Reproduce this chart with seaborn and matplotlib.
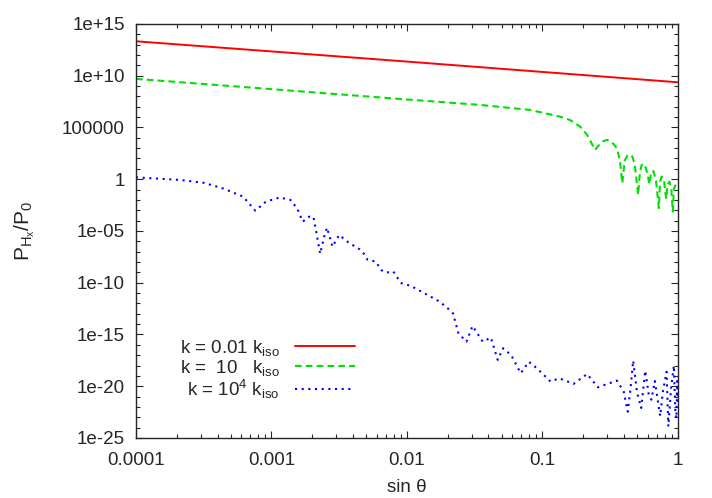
import numpy as np
import pandas as pd
import matplotlib
matplotlib.use("Agg")
import matplotlib.pyplot as plt
from matplotlib.ticker import FixedLocator, FixedFormatter, LogLocator, NullFormatter
import seaborn as sns

# values (log-log plot)
red_x = [1e-4, 1e-3, 1e-2, 1e-1, 1.0]
red_y = [2.1e13, 2.2e12, 2.3e11, 2.3e10, 2.3e9]

green_x = [1e-4, 1e-3, 8.9e-3, 0.0347, 0.0813, 0.135, 0.16, 0.19, 0.214, 0.245,
           0.262, 0.28, 0.298, 0.315, 0.335, 0.355, 0.374, 0.389, 0.405, 0.422,
           0.443, 0.462, 0.48, 0.497, 0.509, 0.525, 0.54, 0.555, 0.575, 0.598,
           0.617, 0.632, 0.647, 0.66, 0.69, 0.724, 0.74, 0.759, 0.79, 0.82,
           0.84, 0.867, 0.895, 0.918, 0.935, 0.957, 0.98, 1.0]
green_y = [4.9e9, 5.0e8, 5.6e7, 1.5e7, 4.9e6, 1.1e6, 5.2e5, 1.2e5, 1.9e4, 680,
           2000, 4500, 6200, 5000, 2500, 1000, 60, 0.41, 60, 180,
           240, 150, 30, 0.6, 0.03, 5, 22, 32, 18, 3,
           0.32, 3, 6.3, 6.0, 0.8, 1.6e-3, 0.6, 1.8, 0.8, 0.0126,
           0.3, 0.58, 0.1, 7.4e-4, 0.1, 0.25, 0.15, 0.09]

blue_x = [1e-4, 2.11e-4, 3.16e-4, 4.37e-4, 6.17e-4, 7.6e-4, 9.1e-4, 1.15e-3, 1.38e-3, 1.55e-3,
          1.7e-3, 1.9e-3, 2.04e-3, 2.14e-3, 2.29e-3, 2.45e-3, 2.57e-3, 2.69e-3, 2.82e-3, 3.16e-3,
          3.72e-3, 4.47e-3, 4.9e-3, 5.13e-3, 5.89e-3, 6.46e-3, 6.92e-3, 7.94e-3, 8.71e-3, 9.12e-3,
          1.07e-2, 1.35e-2, 1.74e-2, 2.0e-2, 2.19e-2, 2.4e-2, 2.75e-2, 3.05e-2, 3.63e-2, 4.17e-2,
          4.68e-2, 5.13e-2, 5.89e-2, 6.92e-2, 7.94e-2, 9.12e-2, 0.115, 0.133, 0.17, 0.214,
          0.257, 0.355, 0.398, 0.427, 0.447, 0.468, 0.5, 0.537, 0.575, 0.61,
          0.638, 0.676, 0.708, 0.741, 0.776, 0.826, 0.851, 0.891, 0.935, 0.959,
          0.977, 0.989, 1.0]
blue_y = [1.5, 0.85, 0.45, 0.13, 0.021, 9.1e-4, 6.8e-3, 1.7e-2, 1.0e-2, 1.5e-3,
          7.9e-5, 2.4e-4, 2.4e-4, 8.5e-6, 6.3e-8, 2.8e-6, 2.1e-5, 2.8e-6, 3.0e-7, 4.1e-6,
          7.4e-7, 1.7e-7, 4.8e-8, 1.6e-8, 1.1e-8, 1.7e-9, 9.3e-10, 1.2e-9, 1.9e-10, 8.9e-11,
          4.9e-11, 9.5e-12, 1.5e-12, 3.4e-13, 1.1e-13, 1.3e-15, 2.0e-16, 6.6e-15, 2.0e-16, 5.0e-16,
          3.5e-18, 4.7e-17, 1.0e-17, 1.8e-19, 2.3e-18, 5.4e-19, 2.8e-20, 5.9e-20, 1.7e-20, 1.5e-19,
          7.9e-21, 3.5e-20, 3.2e-21, 3.5e-23, 5.0e-21, 3.0e-18, 2.5e-21, 7.9e-23, 3.2e-19, 1.6e-21,
          5.0e-22, 3.2e-20, 6.3e-22, 1.3e-23, 3.2e-21, 2.5e-19, 1.3e-24, 6.3e-21, 1.0e-18, 3.2e-23,
          7.9e-24, 3.2e-20, 3.2e-22]

labels = ["k = 0.01 k$_\\mathregular{iso}$",
          "k =  10   k$_\\mathregular{iso}$",
          "k = 10$^\\mathregular{4}$ k$_\\mathregular{iso}$"]

ytick_vals = [1e15, 1e10, 1e5, 1, 1e-5, 1e-10, 1e-15, 1e-20, 1e-25]
ytick_labels = ["1e+15", "1e+10", "100000", "1", "1e-05", "1e-10", "1e-15", "1e-20", "1e-25"]
xtick_vals = [1e-4, 1e-3, 1e-2, 1e-1, 1]
xtick_labels = ["0.0001", "0.001", "0.01", "0.1", "1"]

sns.set_style("ticks")
plt.rcParams["font.family"] = ["Liberation Sans", "DejaVu Sans"]
plt.rcParams["mathtext.fontset"] = "custom"
plt.rcParams["mathtext.rm"] = "Liberation Sans"
plt.rcParams["mathtext.it"] = "Liberation Sans"
plt.rcParams["mathtext.default"] = "regular"

fig, ax = plt.subplots(figsize=(7.12, 4.98), dpi=100)
fig.subplots_adjust(left=0.191, right=0.952, bottom=0.1205, top=0.952)
ax.set_xscale("log")
ax.set_yscale("log")

red = pd.DataFrame({"x": red_x, "y": red_y})
green = pd.DataFrame({"x": green_x, "y": green_y})
blue = pd.DataFrame({"x": blue_x, "y": blue_y})

sns.lineplot(data=red, x="x", y="y", ax=ax, color="#ff0000", lw=1.4,
             estimator=None, sort=False, label=labels[0])
sns.lineplot(data=green, x="x", y="y", ax=ax, color="#00e000", lw=1.5,
             estimator=None, sort=False, label=labels[1], dashes=False)
sns.lineplot(data=blue, x="x", y="y", ax=ax, color="#0000ff", lw=1.5,
             estimator=None, sort=False, label=labels[2], dashes=False)
ax.lines[1].set_dashes([3.2, 2])
ax.lines[2].set_dashes([1, 2.2])

ax.set_xlim(1e-4, 1)
ax.set_ylim(1e-25, 1e15)

ax.xaxis.set_major_locator(FixedLocator(xtick_vals))
ax.xaxis.set_major_formatter(FixedFormatter(xtick_labels))
ax.xaxis.set_minor_locator(LogLocator(base=10, subs=range(2, 10), numticks=50))
ax.xaxis.set_minor_formatter(NullFormatter())
ax.yaxis.set_major_locator(FixedLocator(ytick_vals))
ax.yaxis.set_major_formatter(FixedFormatter(ytick_labels))
ax.yaxis.set_minor_locator(LogLocator(base=10, subs=(1.0,), numticks=60))
ax.yaxis.set_minor_formatter(NullFormatter())

ax.tick_params(which="both", direction="in", top=True, right=True, labelsize=13.5, width=0.8)
ax.tick_params(which="major", length=5)
ax.tick_params(axis="x", which="major", pad=10)
ax.tick_params(axis="y", which="major", pad=8)
ax.tick_params(which="minor", length=3)
for s in ax.spines.values():
    s.set_linewidth(1.0)

ax.set_xlabel("sin θ", fontsize=13.5, labelpad=7)
ax.set_ylabel("$P_{H_x}/P_0$", fontsize=15, labelpad=18)

ax.legend(loc="center right", bbox_to_anchor=(0.418, 0.166), frameon=False,
          markerfirst=False, fontsize=13.5, handlelength=3.2, handletextpad=0.8,
          labelspacing=0.0, borderaxespad=0)

fig.savefig("out.png", dpi=100)
